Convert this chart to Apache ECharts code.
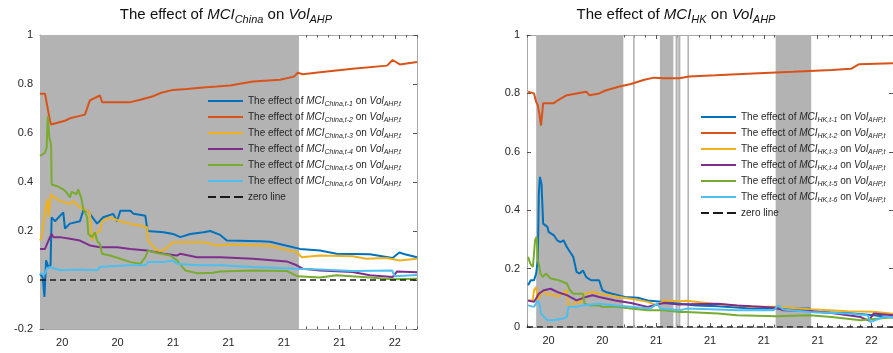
<!DOCTYPE html>
<html>
<head>
<meta charset="utf-8">
<script src="https://cdn.jsdelivr.net/npm/echarts@6/dist/echarts.min.js"></script>
<style>
  html, body { margin: 0; padding: 0; background: #fff; }
  #main { width: 893px; height: 353px; }
</style>
</head>
<body>
<div id="main"></div>
<script>
// x unit = one tick step (quarter), ticks at 0..6
var tickValues = [0, 1, 2, 3, 4, 5, 6];
var tickLabels = ['20', '20', '21', '21', '21', '21', '22'];
var lags = ['t-1', 't-2', 't-3', 't-4', 't-5', 't-6'];
var colors = ['#0072BD', '#D95319', '#EDB120', '#7E2F8E', '#77AC30', '#4DBEEE'];

// shaded periods
var chinaShade = [[-0.4, 4.27]];
var hkShade = [[-0.23, 1.39], [1.57, 1.60], [2.07, 2.32], [2.36, 2.40], [2.41, 2.45], [2.58, 2.61], [4.22, 4.88]];

// MCI China -> Vol AHP
var china1 = [[-0.40,0.026],[-0.35,0.01],[-0.32,-0.069],[-0.29,0.08],[-0.25,0.053],[-0.21,0.06],[-0.19,0.256],[-0.13,0.24],[0.02,0.276],[0.05,0.21],[0.14,0.23],[0.32,0.24],[0.38,0.283],[0.45,0.283],[0.50,0.27],[0.63,0.23],[0.74,0.256],[0.92,0.27],[0.99,0.24],[1.05,0.283],[1.23,0.283],[1.29,0.27],[1.50,0.262],[1.53,0.256],[1.54,0.2],[1.83,0.195],[2.0,0.188],[2.13,0.175],[2.31,0.188],[2.55,0.195],[2.67,0.2],[2.85,0.184],[2.97,0.161],[3.57,0.158],[3.75,0.156],[4.05,0.14],[4.29,0.127],[4.65,0.12],[4.95,0.107],[5.55,0.105],[5.96,0.09],[6.08,0.112],[6.18,0.105],[6.40,0.093]];
var china2 = [[-0.40,0.76],[-0.31,0.76],[-0.22,0.65],[-0.20,0.635],[0.05,0.65],[0.14,0.66],[0.32,0.67],[0.41,0.675],[0.50,0.733],[0.68,0.753],[0.72,0.726],[1.23,0.726],[1.41,0.736],[1.64,0.75],[1.77,0.763],[2.0,0.776],[2.25,0.78],[2.54,0.786],[2.79,0.79],[3.03,0.794],[3.44,0.81],[3.93,0.817],[4.18,0.83],[4.25,0.846],[4.34,0.84],[4.65,0.848],[5.24,0.862],[5.86,0.875],[5.96,0.898],[6.09,0.88],[6.40,0.89]];
var china3 = [[-0.40,0.161],[-0.37,0.175],[-0.31,0.283],[-0.26,0.33],[-0.25,0.256],[-0.20,0.35],[-0.16,0.34],[-0.04,0.323],[0.14,0.31],[0.20,0.323],[0.32,0.296],[0.45,0.283],[0.50,0.27],[0.54,0.161],[0.59,0.188],[0.68,0.2],[0.72,0.24],[0.81,0.25],[0.86,0.256],[1.05,0.24],[1.23,0.229],[1.41,0.222],[1.53,0.215],[1.55,0.16],[1.71,0.12],[1.83,0.12],[2.0,0.154],[2.25,0.154],[2.55,0.154],[2.67,0.148],[2.79,0.141],[3.03,0.145],[3.75,0.14],[4.05,0.123],[4.23,0.114],[4.32,0.093],[4.65,0.1],[5.24,0.097],[5.49,0.087],[5.85,0.09],[6.09,0.08],[6.40,0.087]];
var china4 = [[-0.40,0.127],[-0.31,0.127],[-0.22,0.175],[-0.19,0.188],[-0.16,0.175],[-0.04,0.175],[0.14,0.168],[0.32,0.161],[0.50,0.141],[0.68,0.134],[0.99,0.134],[1.23,0.127],[1.53,0.12],[1.83,0.107],[2.07,0.1],[2.13,0.107],[2.43,0.093],[2.85,0.093],[3.44,0.087],[4.05,0.076],[4.23,0.06],[4.34,0.046],[4.65,0.039],[5.24,0.033],[5.55,0.019],[5.96,0.012],[6.04,0.035],[6.40,0.032]];
var china5 = [[-0.40,0.506],[-0.31,0.52],[-0.28,0.54],[-0.26,0.668],[-0.23,0.58],[-0.20,0.55],[-0.19,0.39],[-0.10,0.384],[0.02,0.37],[0.08,0.357],[0.14,0.337],[0.17,0.36],[0.26,0.35],[0.29,0.37],[0.32,0.377],[0.35,0.33],[0.38,0.29],[0.45,0.256],[0.47,0.188],[0.54,0.175],[0.59,0.195],[0.63,0.16],[0.68,0.147],[0.72,0.107],[0.86,0.1],[1.05,0.087],[1.23,0.073],[1.41,0.066],[1.50,0.093],[1.55,0.12],[1.71,0.11],[1.95,0.1],[2.07,0.08],[2.22,0.039],[2.43,0.028],[2.72,0.03],[2.85,0.035],[3.44,0.039],[4.05,0.037],[4.25,0.015],[4.65,0.01],[4.95,0.019],[5.55,0.01],[5.96,0.003],[6.40,0.005]];
var china6 = [[-0.40,0.026],[-0.31,0.026],[-0.28,0.046],[-0.25,0.04],[-0.22,0.053],[-0.04,0.04],[0.32,0.043],[0.63,0.04],[0.68,0.053],[0.86,0.056],[1.23,0.06],[1.50,0.06],[1.55,0.073],[1.83,0.073],[2.0,0.08],[2.07,0.066],[2.43,0.06],[2.85,0.06],[3.44,0.053],[4.23,0.046],[4.65,0.043],[5.24,0.037],[5.95,0.039],[6.0,0.015],[6.40,0.02]];

// MCI HK -> Vol AHP
var hk1 = [[-0.38,0.143],[-0.33,0.16],[-0.27,0.16],[-0.23,0.183],[-0.20,0.229],[-0.18,0.457],[-0.16,0.514],[-0.13,0.49],[-0.11,0.4],[-0.10,0.354],[-0.02,0.343],[0.0,0.326],[0.10,0.314],[0.16,0.297],[0.22,0.291],[0.28,0.297],[0.34,0.274],[0.40,0.257],[0.46,0.24],[0.52,0.189],[0.58,0.183],[0.64,0.194],[0.70,0.171],[0.79,0.16],[0.94,0.16],[1.0,0.126],[1.06,0.12],[1.18,0.114],[1.42,0.103],[1.66,0.1],[1.84,0.091],[2.14,0.086],[2.44,0.08],[2.74,0.074],[3.15,0.071],[3.77,0.063],[4.23,0.063],[4.85,0.063],[4.90,0.051],[5.57,0.048],[6.04,0.04],[6.41,0.032]];
var hk2 = [[-0.38,0.806],[-0.27,0.80],[-0.23,0.771],[-0.20,0.76],[-0.17,0.73],[-0.14,0.69],[-0.12,0.69],[-0.10,0.766],[0.09,0.766],[0.18,0.777],[0.34,0.794],[0.52,0.80],[0.70,0.806],[0.76,0.794],[0.94,0.80],[1.06,0.81],[1.30,0.823],[1.53,0.832],[1.78,0.847],[1.96,0.854],[2.14,0.852],[2.43,0.852],[2.61,0.858],[3.10,0.862],[3.80,0.868],[4.54,0.874],[5.26,0.88],[5.62,0.884],[5.77,0.9],[6.41,0.903]];
var hk3 = [[-0.38,0.091],[-0.29,0.091],[-0.27,0.126],[-0.23,0.137],[-0.20,0.091],[-0.14,0.114],[-0.09,0.126],[-0.02,0.109],[0.04,0.114],[0.10,0.109],[0.16,0.103],[0.25,0.114],[0.34,0.126],[0.37,0.074],[0.43,0.069],[0.52,0.091],[0.58,0.08],[0.67,0.114],[0.82,0.12],[0.94,0.114],[1.12,0.109],[1.30,0.103],[1.53,0.097],[1.84,0.086],[2.02,0.074],[2.14,0.091],[2.44,0.088],[2.56,0.09],[3.15,0.078],[3.77,0.069],[4.23,0.069],[4.85,0.061],[5.57,0.054],[6.04,0.052],[6.41,0.045]];
var hk4 = [[-0.38,0.091],[-0.27,0.086],[-0.18,0.114],[-0.09,0.126],[0.04,0.131],[0.16,0.12],[0.34,0.109],[0.52,0.091],[0.70,0.103],[0.82,0.109],[0.94,0.103],[1.24,0.091],[1.53,0.082],[1.84,0.069],[2.14,0.082],[2.43,0.077],[2.56,0.078],[3.15,0.08],[3.50,0.074],[3.77,0.071],[4.23,0.066],[4.36,0.057],[4.85,0.055],[5.26,0.048],[5.80,0.034],[5.95,0.022],[6.04,0.046],[6.41,0.04]];
var hk5 = [[-0.38,0.24],[-0.34,0.217],[-0.29,0.206],[-0.27,0.251],[-0.25,0.297],[-0.22,0.309],[-0.20,0.229],[-0.17,0.206],[-0.15,0.183],[-0.11,0.171],[-0.05,0.183],[0.04,0.166],[0.19,0.16],[0.34,0.149],[0.40,0.126],[0.46,0.114],[0.64,0.114],[0.67,0.08],[0.76,0.074],[0.94,0.074],[0.99,0.069],[1.24,0.069],[1.53,0.063],[1.84,0.057],[2.14,0.057],[2.43,0.051],[2.56,0.051],[3.15,0.046],[3.50,0.04],[4.23,0.037],[4.85,0.04],[5.26,0.034],[5.80,0.023],[6.04,0.027],[6.41,0.034]];
var hk6 = [[-0.38,0.074],[-0.27,0.069],[-0.20,0.091],[-0.17,0.08],[-0.14,0.046],[-0.08,0.034],[-0.02,0.023],[0.09,0.023],[0.27,0.029],[0.34,0.034],[0.37,0.069],[0.40,0.074],[0.52,0.069],[0.63,0.074],[0.94,0.08],[1.24,0.074],[1.53,0.069],[1.89,0.063],[2.02,0.08],[2.08,0.063],[2.44,0.057],[2.56,0.063],[3.15,0.06],[3.50,0.057],[4.18,0.057],[4.27,0.074],[4.36,0.06],[4.85,0.051],[5.57,0.046],[5.93,0.04],[5.98,0.017],[6.22,0.034],[6.41,0.034]];

var zeroLine = [[-0.4, 0], [6.4, 0]];

var chinaSeries = [china1, china2, china3, china4, china5, china6];
var hkSeries = [hk1, hk2, hk3, hk4, hk5, hk6];

var FONT = 'Liberation Sans, Arial, Helvetica, sans-serif';
var TXT = '#262626';
var BOX = '#a8a8a8';
var SOLID_ICON = 'path://M0,0h35v2h-35z';
var DASH_ICON = 'path://M0,0h8v2h-8zM12,0h10v2h-10zM26,0h9v2h-9z';

var minorTicks = [];
for (var k = -2; k <= 32; k++) {
    if (k % 5 !== 0) minorTicks.push(k / 5);
}

var myChart = echarts.init(document.getElementById('main'));

function xAxes(g) {
    var base = {
        gridIndex: g, type: 'value', min: -0.4, max: 6.4,
        splitLine: { show: false },
        axisLine: { show: true, onZero: false, lineStyle: { color: BOX, width: 1 } }
    };
    return [
        Object.assign({}, base, {
            position: 'bottom',
            axisTick: { inside: true, length: 4, customValues: tickValues, lineStyle: { color: '#555' } },
            axisLabel: {
                customValues: tickValues, margin: 8, color: TXT, fontSize: 11, fontFamily: FONT,
                formatter: function (v) { return tickLabels[Math.round(v)]; }
            }
        }),
        Object.assign({}, base, {
            position: 'bottom',
            axisTick: { inside: true, length: 2.5, customValues: minorTicks, lineStyle: { color: '#555' } },
            axisLabel: { show: false }
        }),
        Object.assign({}, base, {
            position: 'top',
            axisTick: { inside: true, length: 4, customValues: tickValues, lineStyle: { color: '#555' } },
            axisLabel: { show: false }
        }),
        Object.assign({}, base, {
            position: 'top',
            axisTick: { inside: true, length: 2.5, customValues: minorTicks, lineStyle: { color: '#555' } },
            axisLabel: { show: false }
        })
    ];
}

function yAxes(g, min) {
    var base = {
        gridIndex: g, type: 'value', min: min, max: 1, interval: 0.2,
        splitLine: { show: false },
        axisLine: { show: true, onZero: false, lineStyle: { color: BOX, width: 1 } },
        axisTick: { show: true, inside: true, length: 4, lineStyle: { color: '#555' } }
    };
    return [
        Object.assign({}, base, {
            position: 'left',
            axisLabel: { margin: 7, color: TXT, fontSize: 11, fontFamily: FONT }
        }),
        Object.assign({}, base, {
            position: 'right',
            axisLabel: { show: false }
        })
    ];
}

var series = [];
var legendLeft = [];
var legendRight = [];
var labelMap = {};

function addPlot(key, sub, data, shade, xi, yi, legendList) {
    series.push({
        type: 'line', name: key + '_shade', xAxisIndex: xi, yAxisIndex: yi,
        data: zeroLine, symbol: 'none', silent: true, z: 1,
        lineStyle: { opacity: 0 },
        markArea: {
            silent: true,
            itemStyle: { color: '#b3b3b3' },
            data: shade.map(function (s) { return [{ xAxis: s[0] }, { xAxis: s[1] }]; })
        }
    });
    data.forEach(function (d, i) {
        var name = key + '_' + (i + 1);
        labelMap[name] = 'The effect of {i|MCI}{s|' + sub + ',' + lags[i] + '} on {i|Vol}{s|AHP,t}';
        legendList.push({ name: name, icon: SOLID_ICON });
        series.push({
            type: 'line', name: name, xAxisIndex: xi, yAxisIndex: yi,
            data: d, symbol: 'none', showSymbol: false, z: 3,
            lineStyle: { color: colors[i], width: 2 },
            itemStyle: { color: colors[i] }
        });
    });
    var zname = key + '_zero';
    labelMap[zname] = 'zero line';
    legendList.push({ name: zname, icon: DASH_ICON });
    series.push({
        type: 'line', name: zname, xAxisIndex: xi, yAxisIndex: yi,
        data: zeroLine, symbol: 'none', z: 4,
        lineStyle: { color: '#1a1a1a', width: 1.5, type: [6, 4] },
        itemStyle: { color: '#1a1a1a' }
    });
}

addPlot('china', 'China', chinaSeries, chinaShade, 0, 0, legendLeft);
addPlot('hk', 'HK', hkSeries, hkShade, 4, 2, legendRight);

var legendText = {
    fontSize: 10, color: TXT, fontFamily: FONT, lineHeight: 14,
    rich: {
        i: { fontStyle: 'italic', fontSize: 10, lineHeight: 14, color: TXT, fontFamily: FONT },
        s: { fontStyle: 'italic', fontSize: 7, lineHeight: 8, verticalAlign: 'bottom', color: TXT, fontFamily: FONT }
    }
};

var titleText = {
    fontSize: 15, fontWeight: 'normal', color: '#111', fontFamily: FONT, lineHeight: 20,
    rich: {
        i: { fontStyle: 'italic', fontSize: 15, lineHeight: 20, color: '#111', fontFamily: FONT },
        s: { fontStyle: 'italic', fontSize: 11, lineHeight: 11, verticalAlign: 'bottom', color: '#111', fontFamily: FONT }
    }
};

function legendOpt(left, top, list) {
    return {
        orient: 'vertical', left: left, top: top, padding: 0,
        itemWidth: 35, itemHeight: 2, itemGap: 2,
        data: list, selectedMode: false,
        itemStyle: { borderWidth: 0 },
        formatter: function (n) { return labelMap[n]; },
        textStyle: legendText
    };
}

myChart.setOption({
    animation: false,
    backgroundColor: '#fff',
    title: [
        { text: 'The effect of {i|MCI}{s|China} on {i|Vol}{s|AHP}', left: 226, top: 5, textAlign: 'center', padding: 0, textStyle: titleText },
        { text: 'The effect of {i|MCI}{s|HK} on {i|Vol}{s|AHP}', left: 676, top: 5, textAlign: 'center', padding: 0, textStyle: titleText }
    ],
    grid: [
        { left: 40, top: 35, width: 377, height: 294 },
        { left: 527, top: 35, width: 377, height: 292 }
    ],
    xAxis: xAxes(0).concat(xAxes(1)),
    yAxis: yAxes(0, -0.2).concat(yAxes(1, 0)),
    legend: [
        legendOpt(208, 94, legendLeft),
        legendOpt(701, 110, legendRight)
    ],
    series: series
});
</script>
</body>
</html>
